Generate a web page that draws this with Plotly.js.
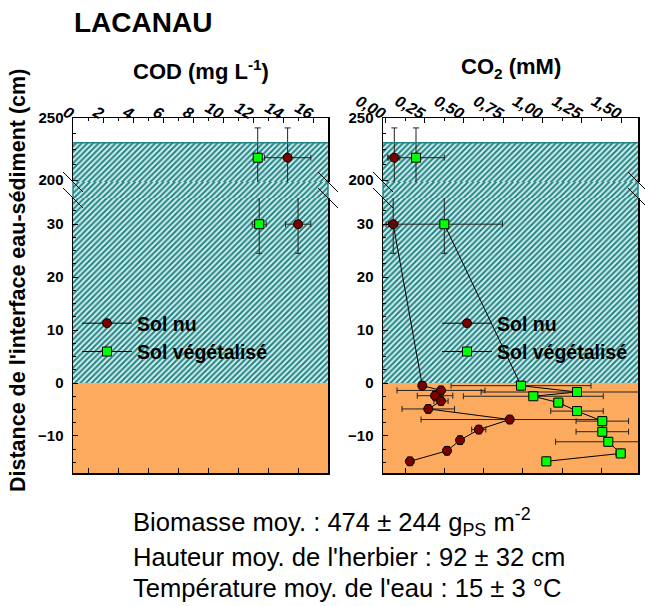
<!DOCTYPE html>
<html><head><meta charset="utf-8">
<script src="https://cdn.plot.ly/plotly-3.0.1.min.js"></script>
<style>body{margin:0;background:#fff}#chart{width:645px;height:606px}</style>
</head><body><div id="chart"></div>
<script>
// ---------- data ----------
// COD panel (mg L-1)
const codNuUpX = [14.3], codNuUpY = [218], codNuUpXErr = [1.55], codNuUpYErr = [24];
const codVegUpX = [12.3], codVegUpY = [218], codVegUpXErr = [0], codVegUpYErr = [24];
const codNuX = [15.0], codNuY = [30], codNuXErr = [0.85], codNuYErr = [5.5];
const codVegX = [12.4], codVegY = [30], codVegXErr = [0.47], codVegYErr = [5.5];
// CO2 panel (mM)
const co2NuUpX = [0.057], co2NuUpY = [218], co2NuUpXErr = [0.035], co2NuUpYErr = [24];
const co2VegUpX = [0.195], co2VegUpY = [218], co2VegUpXErr = [0.18], co2VegUpYErr = [24];
const co2NuY = [30, -0.5, -1.4, -2.4, -3.4, -4.9, -6.9, -8.8, -10.8, -12.8, -14.8];
const co2NuX = [0.05, 0.235, 0.354, 0.316, 0.354, 0.273, 0.791, 0.594, 0.475, 0.392, 0.156];
const co2NuXErr = [0.03, 0.02, 0.28, 0.113, 0.045, 0.167, 0.564, 0.045, 0.02, 0.02, 0.02];
const co2NuYErr = [5.5, 0.8, 0.8, 0.8, 0.8, 0.8, 0.8, 0.8, 0.8, 0.8, 0.8];
const co2VegY = [30, -0.5, -1.7, -2.5, -3.7, -5.3, -7.2, -9.2, -11.1, -13.3, -14.8];
const co2VegX = [0.375, 0.863, 1.219, 0.941, 1.1, 1.219, 1.38, 1.38, 1.418, 1.497, 1.024];
const co2VegXErr = [0.37, 0.445, 0.61, 0.445, 0.03, 0.167, 0.167, 0.167, 0.335, 0.03, 0];
const co2VegYErr = [5.5, 0.8, 0.8, 0.8, 0.8, 0.8, 0.8, 0.8, 0.8, 0.8, 0.8];
// tick labels
const codTicks = [0, 2, 4, 6, 8, 10, 12, 14, 16];
const codMinorTicks = [1, 3, 5, 7, 9, 11, 13, 15];
const co2Ticks = [0, 0.25, 0.5, 0.75, 1.0, 1.25, 1.5];
const co2TickText = ['0,00', '0,25', '0,50', '0,75', '1,00', '1,25', '1,50'];
const co2MinorTicks = [0.125, 0.375, 0.625, 0.875, 1.125, 1.375];
const lowTicks = [-10, 0, 10, 20, 30];
const upTicks = [200, 250];
const seriesNames = ['Sol nu', 'Sol végétalisé'];
// zones
const sedimentTop = 0;      // sediment / water interface
const waterTop = 230;       // water surface (hatched up to here)

// ---------- layout geometry ----------
const W = 645, H = 606, mL = 73, mR = 7, mT = 118, mB = 133;
const gw = W - mL - mR, gh = H - mT - mB;
const pxX = p => (p - mL) / gw;           // pixel -> paper x
const pxY = p => (H - mB - p) / gh;       // pixel -> paper y
const dLeft = [0, pxX(328)], dRight = [pxX(383), 1];
const dUp = [pxY(182), 1], dGap = [pxY(198), pxY(182)], dLow = [0, pxY(198)];
const codRange = [-0.05, 17], co2Range = [-0.015, 1.607];
const lowRange = [-17, 34.95], upRange = [198.4, 250];

const NU = '#7a0000', VEG = '#00ff00', TEAL = '#1f8585';
const FONT = 'Liberation Sans, Arial, sans-serif';
const errStyle = {color: '#222', thickness: 1, width: 3};

function errs(xe, ye) {
  return {
    error_x: Object.assign({type: 'data', array: xe, visible: true}, errStyle),
    error_y: Object.assign({type: 'data', array: ye, visible: true}, errStyle)
  };
}
function hatch(xa, ya, xr, yr) {
  return {x: [xr[0], xr[1], xr[1], xr[0]], y: [yr[0], yr[0], yr[1], yr[1]],
    xaxis: xa, yaxis: ya, mode: 'none', fill: 'toself', fillcolor: '#d8eeee',
    fillpattern: {shape: '/', fgcolor: TEAL, bgcolor: '#d8eeee', size: 4, solidity: 0.5},
    showlegend: false, hoverinfo: 'skip'};
}
function pts(x, y, xe, ye, xa, ya, name, sym, col, legend, show, mode) {
  return Object.assign({x, y, xaxis: xa, yaxis: ya, name, mode,
    line: {color: '#000', width: 1},
    marker: {symbol: sym, size: 9, color: col, line: {color: '#000', width: 1}},
    legend, showlegend: show, cliponaxis: true}, errs(xe, ye));
}

const data = [
  // hatch backgrounds
  hatch('x3', 'y', codRange, [sedimentTop, lowRange[1] + 5]),
  hatch('x', 'y5', codRange, [0, 1]),
  hatch('x', 'y2', codRange, [upRange[0] - 5, waterTop]),
  hatch('x4', 'y3', co2Range, [sedimentTop, lowRange[1] + 5]),
  hatch('x2', 'y6', co2Range, [0, 1]),
  hatch('x2', 'y4', co2Range, [upRange[0] - 5, waterTop]),
  // empty holders for the tick-label axes
  {x: [], y: [], xaxis: 'x5', yaxis: 'y2', showlegend: false, hoverinfo: 'skip'},
  {x: [], y: [], xaxis: 'x6', yaxis: 'y4', showlegend: false, hoverinfo: 'skip'},
  // COD
  pts(codNuUpX, codNuUpY, codNuUpXErr, codNuUpYErr, 'x', 'y2', seriesNames[0], 'circle', NU, 'legend', false, 'markers'),
  pts(codVegUpX, codVegUpY, codVegUpXErr, codVegUpYErr, 'x', 'y2', seriesNames[1], 'square', VEG, 'legend', false, 'markers'),
  pts(codNuX, codNuY, codNuXErr, codNuYErr, 'x3', 'y', seriesNames[0], 'circle', NU, 'legend', true, 'lines+markers'),
  pts(codVegX, codVegY, codVegXErr, codVegYErr, 'x3', 'y', seriesNames[1], 'square', VEG, 'legend', true, 'lines+markers'),
  // CO2
  pts(co2NuUpX, co2NuUpY, co2NuUpXErr, co2NuUpYErr, 'x2', 'y4', seriesNames[0], 'circle', NU, 'legend2', false, 'markers'),
  pts(co2VegUpX, co2VegUpY, co2VegUpXErr, co2VegUpYErr, 'x2', 'y4', seriesNames[1], 'square', VEG, 'legend2', false, 'markers'),
  pts(co2NuX, co2NuY, co2NuXErr, co2NuYErr, 'x4', 'y3', seriesNames[0], 'circle', NU, 'legend2', true, 'lines+markers'),
  pts(co2VegX, co2VegY, co2VegXErr, co2VegYErr, 'x4', 'y3', seriesNames[1], 'square', VEG, 'legend2', true, 'lines+markers')
];

const tickFontX = {family: FONT, size: 16, weight: 'bold', style: 'italic', color: '#000'};
const tickFontY = {family: FONT, size: 15, weight: 'bold', color: '#000'};
const axBase = {showline: true, linecolor: '#000', linewidth: 1.5, showgrid: false, zeroline: false,
  ticks: 'inside', ticklen: 5, tickcolor: '#000', tickwidth: 1, fixedrange: true};

function topX(domain, range, tv, minor, anchor) {
  return Object.assign({}, axBase, {domain, range, anchor, side: 'top', tickmode: 'array', tickvals: tv,
    showticklabels: false,
    minor: {tickmode: 'array', tickvals: minor, ticks: 'inside', ticklen: 3, tickcolor: '#000'}});
}
function labelX(domain, range, tv, tt, over) {
  return {domain, range, overlaying: over, anchor: 'free', position: 1 - 6 / gh, side: 'top',
    showline: false, showgrid: false, zeroline: false, ticks: '', tickmode: 'array', tickvals: tv,
    ticktext: tt, tickangle: 30, tickfont: tickFontX, fixedrange: true};
}
function botX(domain, range, minor, anchor) {
  return Object.assign({}, axBase, {domain, range, anchor, side: 'bottom', tickmode: 'array',
    tickvals: minor, showticklabels: false});
}
function lowY(domain, anchor) {
  return Object.assign({}, axBase, {domain, range: lowRange, anchor, mirror: true, tickmode: 'array',
    tickvals: lowTicks, tickfont: tickFontY, ticklabelstandoff: 5,
    minor: {dtick: 2.5, tick0: 0, ticks: 'inside', ticklen: 3, tickcolor: '#000'}});
}
function upY(domain, anchor) {
  return Object.assign({}, axBase, {domain, range: upRange, anchor, mirror: true, tickmode: 'array',
    tickvals: upTicks, tickfont: tickFontY, ticklabelstandoff: 5,
    minor: {dtick: 12.5, tick0: 200, ticks: 'inside', ticklen: 3, tickcolor: '#000'}});
}
function gapY(domain, anchor) {
  return {domain, range: [0, 1], anchor, visible: false, fixedrange: true};
}

// break marks (paper coordinates)
const bx = 10 / gw, by = 10 / gh;
const breakShapes = [];
[dLeft[0], dLeft[1], dRight[0], dRight[1]].forEach(xp => {
  [dUp[0], dLow[1]].forEach(yp => {
    breakShapes.push({type: 'line', xref: 'paper', yref: 'paper', x0: xp - bx, y0: yp + by,
      x1: xp + bx, y1: yp - by, line: {color: '#000', width: 1}});
  });
});
const zoneShapes = [];
[['x3', 'x', 'y', 'y2', 'y5'], ['x4', 'x2', 'y3', 'y4', 'y6']].forEach(([xb, xt, yl, yu, yg]) => {
  zoneShapes.push({type: 'rect', layer: 'below', xref: xb + ' domain', yref: yl, x0: 0, x1: 1,
    y0: lowRange[0] - 5, y1: sedimentTop, fillcolor: '#fcab5e', line: {width: 0}});
  zoneShapes.push({type: 'line', xref: xt + ' domain', yref: yu, x0: 0, x1: 1, y0: waterTop, y1: waterTop,
    line: {color: TEAL, width: 1.5}});
  [0, 1].forEach(e => zoneShapes.push({type: 'line', xref: xt + ' domain', yref: yg + ' domain',
    x0: e, x1: e, y0: 0, y1: 1, line: {color: TEAL, width: 1.5}}));
});

const legendFont = {family: FONT, size: 19.5, weight: 'bold', color: '#000'};
const layout = {
  width: W, height: H, paper_bgcolor: '#fff', plot_bgcolor: '#fff',
  margin: {l: mL, r: mR, t: mT, b: mB, pad: 0},
  font: {family: FONT, color: '#000'},
  xaxis: topX(dLeft, codRange, codTicks, codMinorTicks, 'y2'),
  xaxis5: labelX(dLeft, codRange, codTicks, codTicks.map(String), 'x'),
  xaxis3: botX(dLeft, codRange, codMinorTicks, 'y'),
  xaxis2: topX(dRight, co2Range, co2Ticks, co2MinorTicks, 'y4'),
  xaxis6: labelX(dRight, co2Range, co2Ticks, co2TickText, 'x2'),
  xaxis4: botX(dRight, co2Range, co2MinorTicks, 'y3'),
  yaxis: lowY(dLow, 'x3'),
  yaxis2: upY(dUp, 'x'),
  yaxis5: gapY(dGap, 'x'),
  yaxis3: lowY(dLow, 'x4'),
  yaxis4: upY(dUp, 'x2'),
  yaxis6: gapY(dGap, 'x2'),
  legend: {x: pxX(77), y: pxY(337.5), xanchor: 'left', yanchor: 'middle', bgcolor: 'rgba(0,0,0,0)',
    font: legendFont, itemwidth: 50, tracegroupgap: 0},
  legend2: {x: pxX(437), y: pxY(337.5), xanchor: 'left', yanchor: 'middle', bgcolor: 'rgba(0,0,0,0)',
    font: legendFont, itemwidth: 50, tracegroupgap: 0},
  shapes: zoneShapes.concat(breakShapes),
  annotations: [
    {text: '<b>LACANAU</b>', xref: 'paper', yref: 'paper', x: pxX(72), y: pxY(23), xanchor: 'left', yanchor: 'middle',
      showarrow: false, font: {family: FONT, size: 28, color: '#000'}},
    {text: '<b>COD (mg L<sup>-1</sup>)</b>', xref: 'x domain', yref: 'paper', x: 0.5, y: pxY(70), xanchor: 'center',
      yanchor: 'middle', showarrow: false, font: {family: FONT, size: 22, color: '#000'}},
    {text: '<b>CO<sub>2</sub> (mM)</b>', xref: 'x2 domain', yref: 'paper', x: 0.5, y: pxY(68), xanchor: 'center',
      yanchor: 'middle', showarrow: false, font: {family: FONT, size: 22, color: '#000'}},
    {text: "<b>Distance de l'interface eau-sédiment (cm)</b>", xref: 'paper', yref: 'paper', x: pxX(18), y: pxY(281),
      xanchor: 'center', yanchor: 'middle', textangle: -90, showarrow: false, font: {family: FONT, size: 21.5, color: '#000'}},
    {text: 'Biomasse moy. : 474 ± 244 g<sub>PS</sub> m<sup>-2</sup>', xref: 'paper', yref: 'paper', x: pxX(131), y: pxY(522),
      xanchor: 'left', yanchor: 'middle', showarrow: false, font: {family: FONT, size: 25.6, color: '#000'}},
    {text: "Hauteur moy. de l'herbier : 92 ± 32 cm", xref: 'paper', yref: 'paper', x: pxX(131), y: pxY(557),
      xanchor: 'left', yanchor: 'middle', showarrow: false, font: {family: FONT, size: 25.6, color: '#000'}},
    {text: "Température moy. de l'eau : 15 ± 3 °C", xref: 'paper', yref: 'paper', x: pxX(131), y: pxY(588),
      xanchor: 'left', yanchor: 'middle', showarrow: false, font: {family: FONT, size: 25.6, color: '#000'}}
  ]
};

Plotly.newPlot('chart', data, layout, {displayModeBar: false, staticPlot: true});
</script></body></html>
